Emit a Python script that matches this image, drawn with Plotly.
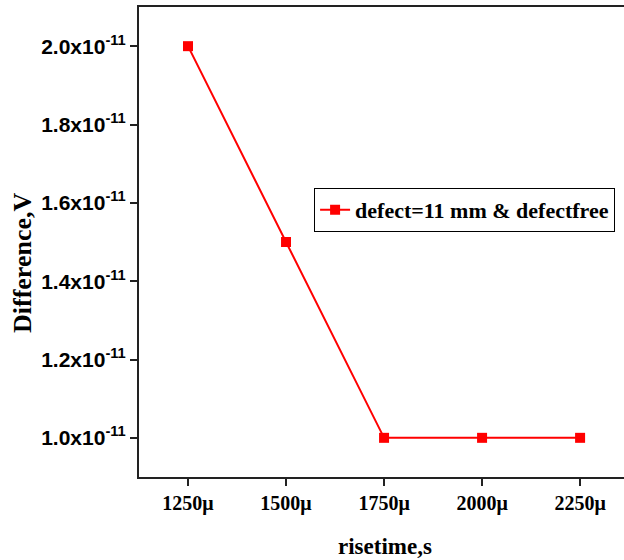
import plotly.graph_objects as go

# rise time (µs) and measured difference (V)
risetime = [1250, 1500, 1750, 2000, 2250]
difference = [2.0e-11, 1.5e-11, 1.0e-11, 1.0e-11, 1.0e-11]

x_ticks = [1250, 1500, 1750, 2000, 2250]
x_ticktext = ["1250\u03bc", "1500\u03bc", "1750\u03bc", "2000\u03bc", "2250\u03bc"]
y_ticks = [1.0e-11, 1.2e-11, 1.4e-11, 1.6e-11, 1.8e-11, 2.0e-11]
y_ticktext = ["1.0x10<sup>-11</sup>", "1.2x10<sup>-11</sup>", "1.4x10<sup>-11</sup>",
              "1.6x10<sup>-11</sup>", "1.8x10<sup>-11</sup>", "2.0x10<sup>-11</sup>"]

fig = go.Figure()
fig.add_trace(go.Scatter(
    x=risetime, y=difference,
    mode="lines+markers",
    name="defect=11 mm & defectfree",
    line=dict(color="#ff0000", width=2),
    marker=dict(symbol="square", size=10, color="#ff0000"),
))

serif = "Liberation Serif"

fig.update_layout(
    width=624, height=560,
    margin=dict(l=139, r=0, t=7, b=83),
    plot_bgcolor="white", paper_bgcolor="white",
    showlegend=True,
    legend=dict(
        x=0.361, y=0.615, xanchor="left", yanchor="top",
        bordercolor="#000000", borderwidth=1, bgcolor="white",
        font=dict(family=serif, size=22, color="black", weight="bold"),
        itemwidth=30, tracegroupgap=0,
    ),
    xaxis=dict(
        range=[1125, 2362],
        tickvals=x_ticks, ticktext=x_ticktext,
        ticks="outside", ticklen=7, tickwidth=2, tickcolor="#222",
        showline=True, linewidth=2, linecolor="#222", mirror=True,
        showgrid=False, zeroline=False,
        tickfont=dict(family=serif, size=20, color="black", weight="bold"),
    ),
    yaxis=dict(
        range=[0.9e-11, 2.1e-11],
        tickvals=y_ticks, ticktext=y_ticktext,
        ticks="outside", ticklen=7, tickwidth=2, tickcolor="#222",
        showline=True, linewidth=2, linecolor="#222", mirror=False,
        showgrid=False, zeroline=False,
        tickfont=dict(family="Liberation Sans", size=21, color="black", weight="bold"),
    ),
    annotations=[
        dict(text="risetime,s", xref="paper", yref="paper",
             x=(385 - 139) / 485, y=-(546 - 477) / 470,
             xanchor="center", yanchor="middle", showarrow=False,
             font=dict(family=serif, size=23, color="black", weight="bold")),
        dict(text="Difference,V", xref="paper", yref="paper",
             x=-(139 - 22) / 485, y=(477 - 263) / 470,
             xanchor="center", yanchor="middle", showarrow=False, textangle=-90,
             font=dict(family=serif, size=26, color="black", weight="bold")),
    ],
)

fig.write_html("out.html")
